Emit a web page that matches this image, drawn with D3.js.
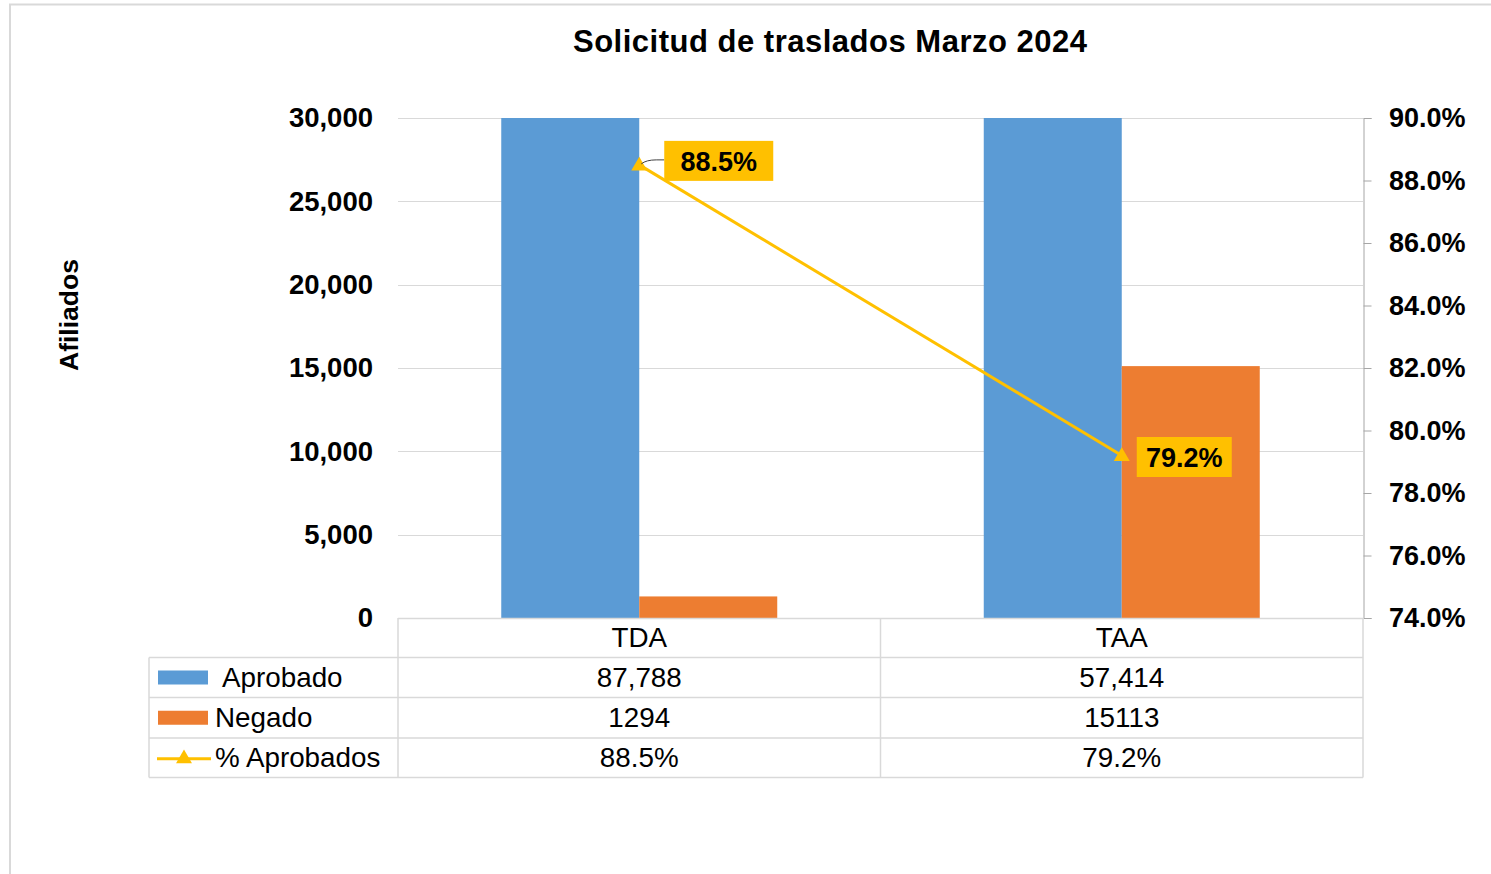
<!DOCTYPE html>
<html>
<head>
<meta charset="utf-8">
<script src="https://cdn.jsdelivr.net/npm/d3@7"></script>
<style>
  html, body { margin: 0; padding: 0; background: #fff; }
  svg { display: block; font-family: "Liberation Sans", Arial, sans-serif; }
</style>
</head>
<body>
<svg id="chart" width="1491" height="874"></svg>
<script>
// ---- Data ----
const title = "Solicitud de traslados Marzo 2024";
const yTitle = "Afiliados";
const categories = ["TDA", "TAA"];
const seriesNames = ["Aprobado", "Negado"];
const aprobado = [87788, 57414];
const negado = [1294, 15113];
const pctAprobados = [88.5, 79.2];
const aprobadoLabels = ["87,788", "57,414"];
const negadoLabels = ["1294", "15113"];
const pctLabels = ["88.5%", "79.2%"];
const leftTicks = [0, 5000, 10000, 15000, 20000, 25000, 30000];
const rightTicks = [74, 76, 78, 80, 82, 84, 86, 88, 90];
const lineName = "% Aprobados";

const colors = { Aprobado: "#5B9BD5", Negado: "#ED7D31", line: "#FFC000" };
const gridColor = "#d9d9d9";

// ---- Layout ----
const svg = d3.select("#chart");
const plot = { left: 398, right: 1363, top: 118, bottom: 618 };
const rowH = [39.5, 40, 40.5, 39.5]; // header row + 3 data rows
const tableLeft = 149;

// outer chart border
svg.append("path")
  .attr("d", `M10,874 L10,4.5 L1491,4.5`)
  .attr("fill", "none").attr("stroke", gridColor).attr("stroke-width", 2);

const x = d3.scaleBand().domain(categories).range([plot.left, plot.right]).paddingInner(0).paddingOuter(0);
const y = d3.scaleLinear().domain([0, 30000]).range([plot.bottom, plot.top]);
const y2 = d3.scaleLinear().domain([74, 90]).range([plot.bottom, plot.top]);
const groupHalf = x.bandwidth() * 0.286;
const x1 = d3.scaleBand().domain(seriesNames).range([-groupHalf, groupHalf]).padding(0);

// gridlines
svg.append("g").selectAll("line").data(leftTicks.filter(d => d > 0)).join("line")
  .attr("x1", plot.left).attr("x2", plot.right)
  .attr("y1", d => Math.round(y(d)) + 0.5).attr("y2", d => Math.round(y(d)) + 0.5)
  .attr("stroke", gridColor).attr("stroke-width", 1);

// clip
svg.append("clipPath").attr("id", "plotclip").append("rect")
  .attr("x", plot.left).attr("y", plot.top).attr("width", plot.right - plot.left).attr("height", plot.bottom - plot.top);

const seriesData = { Aprobado: aprobado, Negado: negado };
const barsG = svg.append("g").attr("clip-path", "url(#plotclip)");
seriesNames.forEach(s => {
  barsG.selectAll(null).data(categories).join("rect")
    .attr("x", (c) => x(c) + x.bandwidth() / 2 + x1(s))
    .attr("width", x1.bandwidth())
    .attr("y", (c, i) => y(Math.min(seriesData[s][i], 30000)))
    .attr("height", (c, i) => plot.bottom - y(Math.min(seriesData[s][i], 30000)))
    .attr("fill", colors[s]);
});

// left axis labels
svg.append("g").selectAll("text").data(leftTicks).join("text")
  .attr("x", 373).attr("y", d => y(d)).attr("dy", "0.34em")
  .attr("text-anchor", "end").attr("font-size", 27.5).attr("font-weight", "bold").attr("fill", "#000")
  .text(d => d3.format(",")(d));

// right axis
const rightAxis = d3.axisRight(y2).tickValues(rightTicks).tickSize(8).tickFormat("");
const ra = svg.append("g").attr("transform", `translate(${plot.right + 0.5},0)`).call(rightAxis);
ra.selectAll("path, line").attr("stroke", "#a6a6a6").attr("stroke-width", 1);
svg.append("g").selectAll("text").data(rightTicks).join("text")
  .attr("x", 1389).attr("y", d => y2(d)).attr("dy", "0.34em")
  .attr("text-anchor", "start").attr("font-size", 27).attr("font-weight", "bold").attr("fill", "#000")
  .text(d => d.toFixed(1) + "%");

// y title
svg.append("text")
  .attr("transform", `translate(78,315) rotate(-90)`)
  .attr("text-anchor", "middle").attr("font-size", 26.5).attr("font-weight", "bold")
  .text(yTitle);

// title
svg.append("text").attr("x", 830).attr("y", 51.5).attr("text-anchor", "middle")
  .attr("font-size", 31).attr("font-weight", "bold")
  .attr("textLength", 514).attr("lengthAdjust", "spacing").text(title);

// line
const cx = c => x(c) + x.bandwidth() / 2;
const lineData = categories.map((c, i) => ({ c, v: pctAprobados[i], label: pctLabels[i] }));
svg.append("path").datum(lineData)
  .attr("d", d3.line().x(d => cx(d.c)).y(d => y2(d.v)))
  .attr("fill", "none").attr("stroke", colors.line).attr("stroke-width", 3);
const tri = d3.symbol().type(d3.symbolTriangle).size(110);
svg.append("g").selectAll("path").data(lineData).join("path")
  .attr("transform", d => `translate(${cx(d.c)},${y2(d.v) + 1})`)
  .attr("d", tri()).attr("fill", colors.line);

// data labels
const labelBoxes = [
  { dx: 25, dy: -24, w: 109, h: 40 },
  { dx: 15, dy: -18.5, w: 95, h: 40 }
];
lineData.forEach((d, i) => {
  const b = labelBoxes[i];
  const bx = cx(d.c) + b.dx, by = y2(d.v) + b.dy;
  if (i === 0) {
    svg.append("path")
      .attr("d", `M${bx},${by + 19} L${bx - 8},${by + 19} Q${bx - 18},${by + 19} ${cx(d.c) + 2},${y2(d.v) - 1}`)
      .attr("fill", "none").attr("stroke", "#404040").attr("stroke-width", 1);
  }
  svg.append("rect").attr("x", bx).attr("y", by).attr("width", b.w).attr("height", b.h).attr("fill", colors.line);
  svg.append("text").attr("x", bx + b.w / 2).attr("y", by + b.h / 2).attr("dy", "0.36em")
    .attr("text-anchor", "middle").attr("font-size", 27).attr("font-weight", "bold").text(d.label);
});

// ---- data table ----
const tbl = svg.append("g");
const rowTops = [plot.bottom];
rowH.forEach(h => rowTops.push(rowTops[rowTops.length - 1] + h));
const tableBottom = rowTops[rowTops.length - 1];
const hl = (x1_, x2_, yy) => tbl.append("line").attr("x1", x1_).attr("x2", x2_).attr("y1", yy).attr("y2", yy)
  .attr("stroke", gridColor).attr("stroke-width", 1.5);
const vl = (xx, y1_, y2_) => tbl.append("line").attr("x1", xx).attr("x2", xx).attr("y1", y1_).attr("y2", y2_)
  .attr("stroke", gridColor).attr("stroke-width", 1.5);
hl(plot.left, plot.right, rowTops[0] + 0.5);
for (let r = 1; r < rowTops.length; r++) hl(tableLeft, plot.right, rowTops[r]);
vl(tableLeft, rowTops[1], tableBottom);
vl(plot.left, rowTops[0], tableBottom);
vl(x(categories[1]), rowTops[0], tableBottom);
vl(plot.right, rowTops[0], tableBottom);

const rowMid = r => (rowTops[r] + rowTops[r + 1]) / 2;
const cellText = (xx, yy, t, anchor) => tbl.append("text").attr("x", xx).attr("y", yy).attr("dy", "0.34em")
  .attr("text-anchor", anchor || "middle").attr("font-size", 27.8).attr("fill", "#000").text(t);
categories.forEach((c, i) => {
  cellText(cx(c), rowMid(0), c);
  cellText(cx(c), rowMid(1), aprobadoLabels[i]);
  cellText(cx(c), rowMid(2), negadoLabels[i]);
  cellText(cx(c), rowMid(3), pctLabels[i]);
});
// legend keys
tbl.append("rect").attr("x", 158).attr("y", rowMid(1) - 7).attr("width", 50).attr("height", 14).attr("fill", colors.Aprobado);
tbl.append("rect").attr("x", 158).attr("y", rowMid(2) - 7).attr("width", 50).attr("height", 14).attr("fill", colors.Negado);
tbl.append("line").attr("x1", 157).attr("x2", 211).attr("y1", rowMid(3) + 1).attr("y2", rowMid(3) + 1)
  .attr("stroke", colors.line).attr("stroke-width", 3);
tbl.append("path").attr("transform", `translate(184,${rowMid(3) + 1})`).attr("d", tri()).attr("fill", colors.line);
cellText(222, rowMid(1), seriesNames[0], "start");
cellText(215, rowMid(2), seriesNames[1], "start");
cellText(215, rowMid(3), lineName, "start");
</script>
</body>
</html>
